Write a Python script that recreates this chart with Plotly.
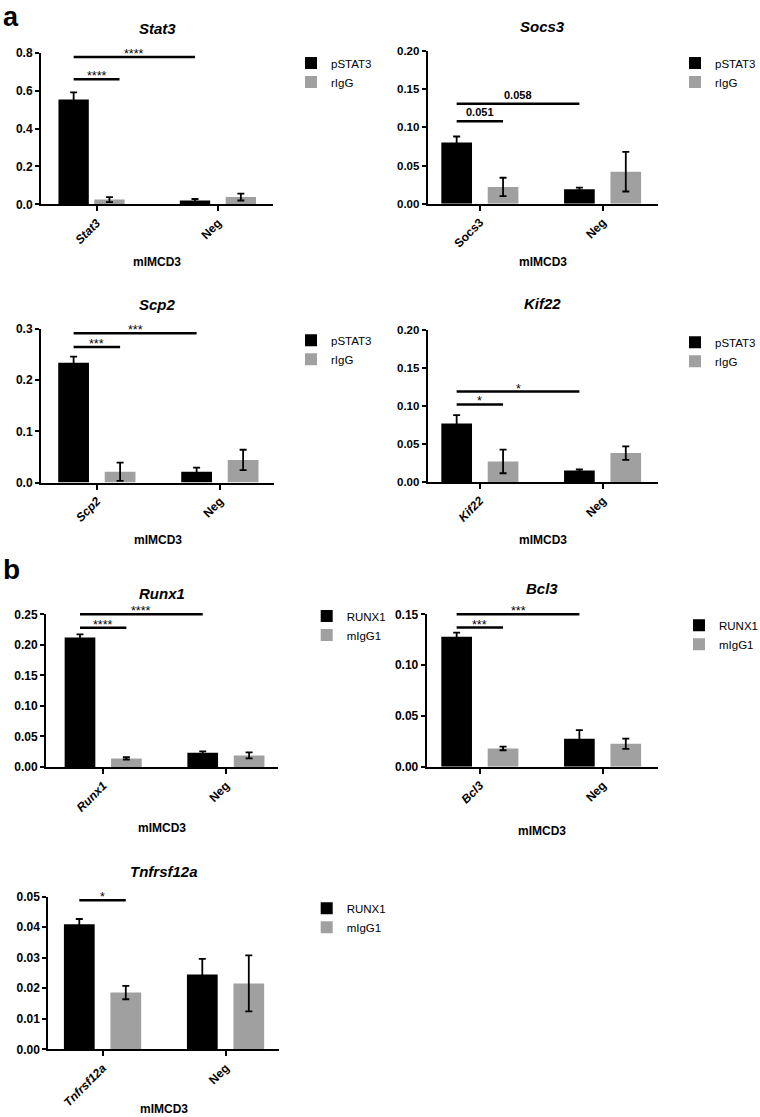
import plotly.graph_objects as go

W, H = 760, 1117
FONT = "Liberation Sans, Arial, sans-serif"
BLACK = "#000000"
GRAY = "#A0A0A0"

# ---------------- data ----------------
# panel a
stat3_cats = ["Stat3", "Neg"]
stat3_pstat3 = [0.553, 0.020]
stat3_pstat3_sd = [0.038, 0.008]
stat3_rigg = [0.025, 0.038]
stat3_rigg_sd = [0.013, 0.018]
stat3_sig = [(0, 0, 0.66, "****", "rIgG"), (0, 1, 0.777, "****", "pSTAT3")]

socs3_cats = ["Socs3", "Neg"]
socs3_pstat3 = [0.080, 0.019]
socs3_pstat3_sd = [0.008, 0.002]
socs3_rigg = [0.022, 0.042]
socs3_rigg_sd = [0.012, 0.026]
socs3_sig = [(0, 0, 0.108, "0.051", "rIgG"), (0, 1, 0.131, "0.058", "pSTAT3")]

scp2_cats = ["Scp2", "Neg"]
scp2_pstat3 = [0.234, 0.021]
scp2_pstat3_sd = [0.012, 0.008]
scp2_rigg = [0.021, 0.044]
scp2_rigg_sd = [0.018, 0.020]
scp2_sig = [(0, 0, 0.265, "***", "rIgG"), (0, 1, 0.2915, "***", "pSTAT3")]

kif22_cats = ["Kif22", "Neg"]
kif22_pstat3 = [0.077, 0.015]
kif22_pstat3_sd = [0.011, 0.0015]
kif22_rigg = [0.027, 0.038]
kif22_rigg_sd = [0.0155, 0.0088]
kif22_sig = [(0, 0, 0.102, "*", "rIgG"), (0, 1, 0.119, "*", "pSTAT3")]

# panel b
runx1_cats = ["Runx1", "Neg"]
runx1_runx1 = [0.212, 0.0235]
runx1_runx1_sd = [0.005, 0.002]
runx1_migg1 = [0.014, 0.019]
runx1_migg1_sd = [0.002, 0.005]
runx1_sig = [(0, 0, 0.228, "****", "mIgG1"), (0, 1, 0.25, "****", "RUNX1")]

bcl3_cats = ["Bcl3", "Neg"]
bcl3_runx1 = [0.128, 0.0275]
bcl3_runx1_sd = [0.004, 0.0085]
bcl3_migg1 = [0.018, 0.0226]
bcl3_migg1_sd = [0.0018, 0.005]
bcl3_sig = [(0, 0, 0.137, "***", "mIgG1"), (0, 1, 0.15, "***", "RUNX1")]

tnf_cats = ["Tnfrsf12a", "Neg"]
tnf_runx1 = [0.041, 0.0245]
tnf_runx1_sd = [0.0017, 0.0051]
tnf_migg1 = [0.0186, 0.0216]
tnf_migg1_sd = [0.0022, 0.0092]
tnf_sig = [(0, 0, 0.0488, "*", "mIgG1")]

cell_line = "mIMCD3"

# ---------------- layout geometry (pixels) ----------------
BLACK_OFF, BAR_W, GRAY_OFF = -0.315, 0.25, 0.063

panels = [
    dict(title="Stat3", cats=stat3_cats, italic=[True, False],
         s1=("pSTAT3", stat3_pstat3, stat3_pstat3_sd), s2=("rIgG", stat3_rigg, stat3_rigg_sd),
         sig=stat3_sig, gray_off=[-0.02, GRAY_OFF],
         x0=41, x1=273, yt=52.7, yb=204.3, xr=[-0.459, 1.453], ymax=0.8, dtick=0.2, fmt=".1f",
         ty=28.3, ly=262, legx=331, legy=(62, 83), sigfont=(12.5, False), tfs=12),
    dict(title="Socs3", cats=socs3_cats, italic=[False, False],
         s1=("pSTAT3", socs3_pstat3, socs3_pstat3_sd), s2=("rIgG", socs3_rigg, socs3_rigg_sd),
         sig=socs3_sig, gray_off=[GRAY_OFF, GRAY_OFF],
         x0=427.7, x1=657.7, yt=51, yb=203.7, xr=[-0.426, 1.448], ymax=0.2, dtick=0.05, fmt=".2f",
         ty=26.7, ly=262, legx=715, legy=(62, 83), sigfont=(11, True), tfs=11.5),
    dict(title="Scp2", cats=scp2_cats, italic=[True, False],
         s1=("pSTAT3", scp2_pstat3, scp2_pstat3_sd), s2=("rIgG", scp2_rigg, scp2_rigg_sd),
         sig=scp2_sig, gray_off=[GRAY_OFF, GRAY_OFF],
         x0=41, x1=274, yt=329, yb=482.5, xr=[-0.455, 1.439], ymax=0.3, dtick=0.1, fmt=".1f",
         ty=304.5, ly=540, legx=331, legy=(339.3, 360), sigfont=(12.5, False), tfs=12),
    dict(title="Kif22", cats=kif22_cats, italic=[True, False],
         s1=("pSTAT3", kif22_pstat3, kif22_pstat3_sd), s2=("rIgG", kif22_rigg, kif22_rigg_sd),
         sig=kif22_sig, gray_off=[GRAY_OFF, GRAY_OFF],
         x0=427.7, x1=657.7, yt=330, yb=482, xr=[-0.426, 1.448], ymax=0.2, dtick=0.05, fmt=".2f",
         ty=303.3, ly=540, legx=715, legy=(341.7, 362), sigfont=(12.5, False), tfs=11.5),
    dict(title="Runx1", cats=runx1_cats, italic=[True, False],
         s1=("RUNX1", runx1_runx1, runx1_runx1_sd), s2=("mIgG1", runx1_migg1, runx1_migg1_sd),
         sig=runx1_sig, gray_off=[GRAY_OFF, GRAY_OFF],
         x0=46, x1=277.7, yt=614.3, yb=767, xr=[-0.467, 1.421], ymax=0.25, dtick=0.05, fmt=".2f",
         ty=593, ly=828, legx=346.7, legy=(615, 636), sigfont=(12.5, False), tfs=12),
    dict(title="Bcl3", cats=bcl3_cats, italic=[True, False],
         s1=("RUNX1", bcl3_runx1, bcl3_runx1_sd), s2=("mIgG1", bcl3_migg1, bcl3_migg1_sd),
         sig=bcl3_sig, gray_off=[GRAY_OFF, GRAY_OFF],
         x0=426.7, x1=657.7, yt=614.3, yb=766.7, xr=[-0.434, 1.448], ymax=0.15, dtick=0.05, fmt=".2f",
         ty=588, ly=831, legx=719, legy=(624.3, 645), sigfont=(12.5, False), tfs=12),
    dict(title="Tnfrsf12a", cats=tnf_cats, italic=[True, False],
         s1=("RUNX1", tnf_runx1, tnf_runx1_sd), s2=("mIgG1", tnf_migg1, tnf_migg1_sd),
         sig=tnf_sig, gray_off=[GRAY_OFF, GRAY_OFF],
         x0=48.3, x1=279.3, yt=896.7, yb=1049.3, xr=[-0.442, 1.436], ymax=0.05, dtick=0.01, fmt=".2f",
         ty=871.7, ly=None, legx=346.7, legy=(907.3, 928.3), sigfont=(12.5, False), tfs=12),
]


def px_x(p):
    return p / W


def px_y(p):
    return 1 - p / H


fig = go.Figure()
annotations = []
shapes = []
layout = {}

for i, p in enumerate(panels):
    k = i + 1
    xa = "x" if k == 1 else f"x{k}"
    ya = "y" if k == 1 else f"y{k}"
    xkey = "xaxis" if k == 1 else f"xaxis{k}"
    ykey = "yaxis" if k == 1 else f"yaxis{k}"
    lkey = "legend" if k == 1 else f"legend{k}"
    xs = list(range(len(p["cats"])))

    name1, v1, e1 = p["s1"]
    name2, v2, e2 = p["s2"]
    err_style = dict(type="data", color=BLACK, thickness=1.8, width=3.5, visible=True)
    fig.add_trace(go.Bar(x=xs, y=v1, name=name1, marker=dict(color=BLACK, line=dict(width=0)),
                         width=BAR_W, offset=BLACK_OFF, error_y=dict(array=e1, **err_style),
                         xaxis=xa, yaxis=ya, legend=lkey))
    fig.add_trace(go.Bar(x=xs, y=v2, name=name2, marker=dict(color=GRAY, line=dict(width=0)),
                         width=BAR_W, offset=p["gray_off"], error_y=dict(array=e2, **err_style),
                         xaxis=xa, yaxis=ya, legend=lkey))

    ticktext = [f"<i>{c}</i>" if it else c for c, it in zip(p["cats"], p["italic"])]
    layout[xkey] = dict(domain=[px_x(p["x0"]), px_x(p["x1"])], anchor=ya, range=p["xr"],
                        tickvals=xs, ticktext=ticktext, tickangle=-45,
                        ticks="outside", ticklen=5, tickwidth=2, tickcolor=BLACK,
                        showline=True, linewidth=2, linecolor=BLACK, showgrid=False,
                        zeroline=False, fixedrange=True,
                        tickfont=dict(family=FONT, size=12, color=BLACK, weight="bold"))
    layout[ykey] = dict(domain=[px_y(p["yb"]), px_y(p["yt"])], anchor=xa, range=[0, p["ymax"]],
                        dtick=p["dtick"], tick0=0, tickformat=p["fmt"],
                        ticks="outside", ticklen=4, tickwidth=2, tickcolor=BLACK,
                        showline=True, linewidth=2, linecolor=BLACK, showgrid=False,
                        zeroline=False, fixedrange=True,
                        tickfont=dict(family=FONT, size=p["tfs"], color=BLACK, weight="bold"))

    ly0, ly1 = p["legy"]
    layout[lkey] = dict(x=px_x(p["legx"] - 40), xanchor="left",
                        y=px_y((ly0 + ly1) / 2), yanchor="middle",
                        bgcolor="rgba(0,0,0,0)", borderwidth=0, tracegroupgap=0,
                        font=dict(family=FONT, size=11.5, color=BLACK))

    # panel title and x-axis label
    xc = px_x((p["x0"] + p["x1"]) / 2)
    annotations.append(dict(text=p["title"], x=xc, y=px_y(p["ty"]), xref="paper", yref="paper",
                            xanchor="center", yanchor="middle", showarrow=False,
                            font=dict(family=FONT, size=15, color=BLACK, weight="bold", style="italic")))
    if p["ly"] is None:
        annotations.append(dict(text=cell_line, x=xc, y=0, xref="paper", yref="paper",
                                xanchor="center", yanchor="bottom", showarrow=False, yshift=-1,
                                font=dict(family=FONT, size=12, color=BLACK, weight="bold")))
    else:
        annotations.append(dict(text=cell_line, x=xc, y=px_y(p["ly"]), xref="paper", yref="paper",
                                xanchor="center", yanchor="middle", showarrow=False,
                                font=dict(family=FONT, size=12, color=BLACK, weight="bold")))

    # significance brackets: from black bar of group g1 to bar of series `other` in group g2
    fs, bold = p["sigfont"]
    ydom = ya + " domain"
    for g1, g2, yv, lab, other in p["sig"]:
        xa0 = g1 + BLACK_OFF + BAR_W / 2
        if other == name1:
            xb0 = g2 + BLACK_OFF + BAR_W / 2
        else:
            xb0 = g2 + GRAY_OFF + BAR_W / 2
        # y axis range starts at 0, so value/ymax is the fraction of the y domain
        frac = yv / p["ymax"]
        shapes.append(dict(type="line", xref=xa, yref=ydom, x0=xa0, x1=xb0, y0=frac, y1=frac,
                           line=dict(color=BLACK, width=2.5)))
        annotations.append(dict(text=lab, x=(xa0 + xb0) / 2, y=yv, xref=xa, yref=ya,
                                xanchor="center", yanchor="bottom", showarrow=False,
                                yshift=(1 if bold else -6),
                                font=dict(family=FONT, size=fs, color=BLACK,
                                          weight=("bold" if bold else "normal"))))

# panel letters
annotations.append(dict(text="a", x=px_x(1), y=1, xref="paper", yref="paper",
                        xanchor="left", yanchor="top", showarrow=False,
                        font=dict(family=FONT, size=27, color=BLACK, weight="bold")))
annotations.append(dict(text="b", x=px_x(1), y=px_y(552), xref="paper", yref="paper",
                        xanchor="left", yanchor="top", showarrow=False,
                        font=dict(family=FONT, size=28, color=BLACK, weight="bold")))

fig.update_layout(
    width=W, height=H, autosize=False,
    margin=dict(l=0, r=0, t=0, b=0, pad=0, autoexpand=False),
    paper_bgcolor="white", plot_bgcolor="white",
    barmode="group", showlegend=True,
    font=dict(family=FONT, color=BLACK),
    annotations=annotations, shapes=shapes,
    **layout,
)

fig.write_html(
    "out.html",
    config={"displayModeBar": False},
    post_script="document.body.style.margin='0';document.body.style.overflow='hidden';",
)
